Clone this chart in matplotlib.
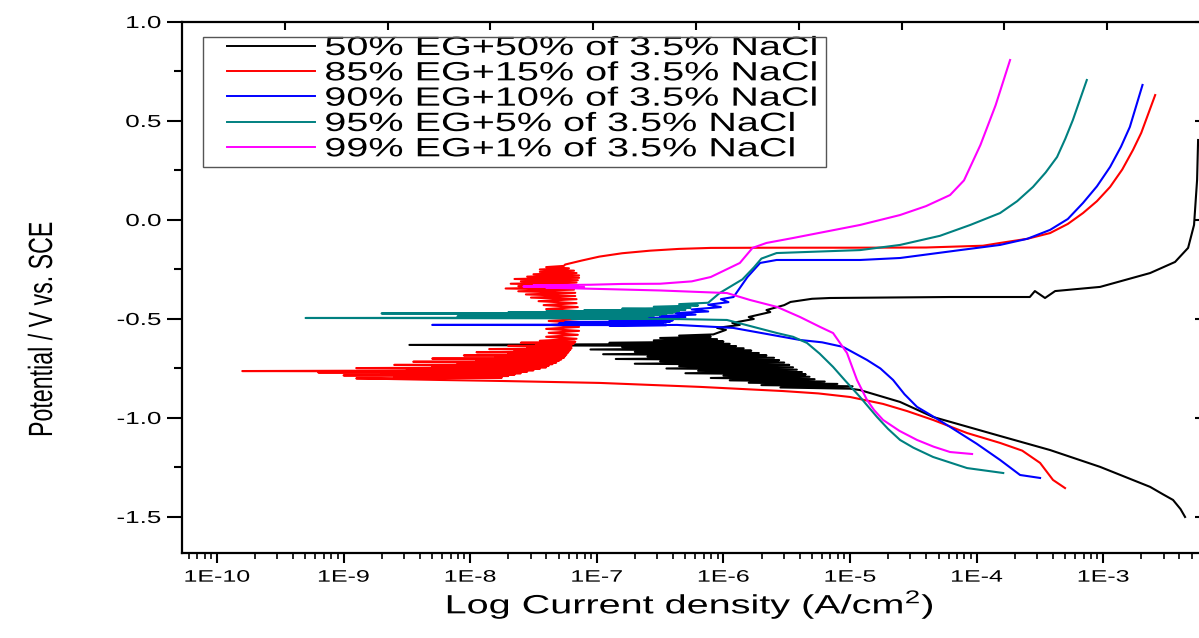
import numpy as np
import matplotlib
matplotlib.use("Agg")
import matplotlib.pyplot as plt
from matplotlib.patheffects import AbstractPathEffect
from matplotlib.transforms import Affine2D
from matplotlib.patches import Rectangle
from matplotlib.ticker import (LogLocator, FixedLocator, FuncFormatter, MultipleLocator,
                               FormatStrFormatter, NullFormatter)

plt.rcParams['font.family'] = ['Liberation Sans', 'DejaVu Sans']
plt.rcParams['mathtext.fontset'] = 'custom'
plt.rcParams['mathtext.rm'] = 'Liberation Sans'

# Tafel scans: (log10 current density, potential vs SCE), cathodic end -> anodic end
black_pts = [(-2.354, -1.500), (-2.390, -1.460), (-2.449, -1.414), (-2.530, -1.385),
             (-2.630, -1.348), (-3.025, -1.247),
             (-3.420, -1.162), (-3.815, -1.091), (-4.344, -0.995), (-4.605, -0.919),
             (-4.921, -0.859),
             (-5.00, -0.852), (-5.55, -0.846), (-4.98, -0.840), (-5.70, -0.834),
             (-5.10, -0.828), (-5.80, -0.822), (-5.20, -0.816), (-5.95, -0.810),
             (-5.28, -0.804), (-6.10, -0.798), (-5.32, -0.792), (-6.00, -0.786),
             (-5.35, -0.780), (-6.30, -0.774), (-5.38, -0.768), (-6.20, -0.762),
             (-5.42, -0.756), (-6.45, -0.750), (-5.45, -0.744), (-6.35, -0.738),
             (-5.48, -0.732), (-6.70, -0.726), (-5.52, -0.720), (-6.50, -0.714),
             (-5.56, -0.708), (-6.85, -0.702), (-5.60, -0.696), (-6.60, -0.690),
             (-5.66, -0.684), (-6.95, -0.678), (-5.72, -0.672), (-6.70, -0.666),
             (-5.78, -0.660), (-7.05, -0.654), (-5.84, -0.648), (-6.80, -0.642),
             (-5.90, -0.637), (-8.48, -0.631), (-5.95, -0.626), (-6.90, -0.620),
             (-6.00, -0.614), (-6.55, -0.608), (-6.05, -0.602), (-6.50, -0.596),
             (-6.10, -0.590), (-6.35, -0.584), (-6.08, -0.578),
             (-5.98, -0.555), (-6.05, -0.545), (-5.87, -0.530), (-5.93, -0.520),
             (-5.76, -0.500), (-5.80, -0.490), (-5.63, -0.465), (-5.66, -0.455),
             (-5.52, -0.430), (-5.47, -0.414), (-5.30, -0.398), (-5.16, -0.394),
             (-4.21, -0.389), (-3.58, -0.389), (-3.54, -0.359), (-3.46, -0.394),
             (-3.38, -0.359), (-3.025, -0.338), (-2.630, -0.268), (-2.433, -0.212),
             (-2.330, -0.141), (-2.283, -0.025), (-2.259, 0.202), (-2.251, 0.404)]

red_pts = [(-3.302, -1.354), (-3.397, -1.313), (-3.499, -1.227), (-3.640, -1.165),
           (-3.815, -1.126), (-4.076, -1.076), (-4.344, -1.010), (-4.550, -0.965),
           (-4.739, -0.929), (-5.000, -0.894), (-5.250, -0.876),
           (-5.529, -0.864), (-6.185, -0.843), (-6.975, -0.823), (-7.765, -0.813),
           (-8.240, -0.808),
           (-8.90, -0.800), (-7.75, -0.796), (-8.60, -0.792), (-7.70, -0.788),
           (-9.00, -0.785), (-7.65, -0.781), (-8.70, -0.778), (-7.60, -0.774),
           (-9.20, -0.770), (-7.55, -0.766), (-9.80, -0.763), (-7.50, -0.759),
           (-8.50, -0.756), (-7.45, -0.752), (-8.90, -0.748), (-7.40, -0.744),
           (-8.30, -0.740), (-7.38, -0.736), (-8.60, -0.732), (-7.35, -0.728),
           (-8.10, -0.724), (-7.32, -0.720), (-8.45, -0.716), (-7.30, -0.712),
           (-7.95, -0.708), (-7.28, -0.704), (-8.30, -0.700), (-7.26, -0.696),
           (-7.80, -0.692), (-7.25, -0.688), (-8.05, -0.684), (-7.24, -0.680),
           (-7.70, -0.676), (-7.23, -0.672), (-7.95, -0.668), (-7.22, -0.664),
           (-7.65, -0.660), (-7.21, -0.656), (-7.85, -0.652), (-7.20, -0.648),
           (-7.55, -0.644), (-7.20, -0.640), (-7.70, -0.636), (-7.20, -0.632),
           (-7.48, -0.628), (-7.18, -0.624), (-7.60, -0.620), (-7.17, -0.615),
           (-7.45, -0.610), (-7.16, -0.600), (-7.40, -0.590), (-7.15, -0.580),
           (-7.38, -0.570), (-7.14, -0.560), (-7.40, -0.550), (-7.14, -0.540),
           (-7.36, -0.530), (-7.14, -0.520), (-7.38, -0.510), (-7.14, -0.500),
           (-7.36, -0.490), (-7.14, -0.480), (-7.38, -0.470), (-7.15, -0.460),
           (-7.40, -0.450), (-7.15, -0.440), (-7.42, -0.430), (-7.16, -0.420),
           (-7.46, -0.410), (-7.16, -0.400), (-7.52, -0.392), (-7.17, -0.384),
           (-7.56, -0.376), (-7.17, -0.368), (-7.62, -0.360), (-7.18, -0.352),
           (-7.72, -0.346), (-7.18, -0.340), (-7.62, -0.334), (-7.17, -0.328),
           (-7.68, -0.322), (-7.16, -0.316), (-7.60, -0.310), (-7.15, -0.304),
           (-7.65, -0.298), (-7.14, -0.292), (-7.55, -0.286), (-7.14, -0.280),
           (-7.50, -0.274), (-7.16, -0.268), (-7.45, -0.262), (-7.18, -0.256),
           (-7.45, -0.250), (-7.22, -0.244), (-7.40, -0.238), (-7.26, -0.232),
           (-7.25, -0.225), (-7.12, -0.205), (-6.98, -0.185), (-6.80, -0.168),
           (-6.58, -0.155), (-6.35, -0.146), (-6.10, -0.141), (-5.60, -0.140),
           (-5.00, -0.140), (-4.40, -0.139), (-3.95, -0.130), (-3.815, -0.116),
           (-3.600, -0.095), (-3.42, -0.066), (-3.280, -0.020), (-3.16, 0.035),
           (-3.050, 0.095), (-2.946, 0.167), (-2.850, 0.255), (-2.765, 0.354),
           (-2.700, 0.440), (-2.654, 0.520), (-2.590, 0.631)]

blue_pts = [(-3.499, -1.303), (-3.657, -1.288), (-3.815, -1.212), (-4.000, -1.130),
            (-4.210, -1.045), (-4.350, -0.990),
            (-4.471, -0.944), (-4.570, -0.880), (-4.660, -0.808), (-4.760, -0.750),
            (-4.866, -0.707), (-5.055, -0.641), (-5.220, -0.618),
            (-5.395, -0.606), (-5.924, -0.545), (-6.367, -0.530),
            (-6.90, -0.533), (-6.45, -0.531), (-8.30, -0.530), (-6.50, -0.528),
            (-7.20, -0.527), (-6.50, -0.525), (-7.30, -0.523), (-6.48, -0.521),
            (-7.00, -0.519), (-6.45, -0.517), (-7.25, -0.515), (-6.42, -0.513),
            (-6.90, -0.510), (-6.40, -0.507), (-6.75, -0.503), (-6.35, -0.500),
            (-6.60, -0.495), (-6.30, -0.490), (-6.50, -0.485), (-6.22, -0.478),
            (-6.38, -0.470), (-6.12, -0.462), (-6.25, -0.452), (-6.02, -0.440),
            (-6.12, -0.428), (-5.96, -0.415), (-6.02, -0.400), (-5.92, -0.389),
            (-5.81, -0.288), (-5.71, -0.217), (-5.58, -0.202), (-4.92, -0.202),
            (-4.605, -0.192), (-4.13, -0.152), (-3.815, -0.126), (-3.600, -0.095),
            (-3.42, -0.050), (-3.280, 0.005),
            (-3.16, 0.086), (-3.050, 0.170), (-2.946, 0.268), (-2.860, 0.370),
            (-2.79, 0.470), (-2.69, 0.682)]

teal_pts = [(-3.790, -1.278), (-4.076, -1.253), (-4.344, -1.197), (-4.500, -1.150),
            (-4.605, -1.111), (-4.700, -1.055),
            (-4.787, -0.995), (-4.921, -0.894), (-5.040, -0.810), (-5.134, -0.742),
            (-5.240, -0.675), (-5.340, -0.621), (-5.450, -0.590),
            (-5.577, -0.571), (-5.972, -0.505), (-6.40, -0.500),
            (-7.20, -0.498), (-6.60, -0.497), (-9.30, -0.495), (-6.70, -0.493),
            (-7.90, -0.491), (-6.60, -0.489), (-8.10, -0.487), (-6.55, -0.485),
            (-7.60, -0.482), (-6.50, -0.480), (-7.90, -0.477), (-6.45, -0.475),
            (-8.70, -0.472), (-6.40, -0.470), (-7.70, -0.467), (-6.38, -0.465),
            (-7.40, -0.462), (-6.35, -0.460), (-7.10, -0.456), (-6.30, -0.453),
            (-6.80, -0.448), (-6.26, -0.444), (-6.55, -0.438), (-6.20, -0.432),
            (-6.35, -0.425), (-6.12, -0.418),
            (-6.03, -0.369), (-5.85, -0.300), (-5.76, -0.240), (-5.70, -0.195),
            (-5.58, -0.167), (-4.92, -0.152), (-4.605, -0.126), (-4.29, -0.080),
            (-4.05, -0.025), (-3.815, 0.035), (-3.680, 0.095), (-3.555, 0.167),
            (-3.455, 0.240), (-3.365, 0.318), (-3.300, 0.410),
            (-3.24, 0.505), (-3.13, 0.707)]

magenta_pts = [(-4.036, -1.182), (-4.210, -1.172), (-4.340, -1.145), (-4.471, -1.111),
               (-4.610, -1.065), (-4.739, -1.010), (-4.810, -0.960),
               (-4.866, -0.909), (-4.945, -0.808), (-5.024, -0.672), (-5.134, -0.571),
               (-5.237, -0.540), (-5.395, -0.490), (-5.577, -0.439), (-5.790, -0.404),
               (-5.972, -0.369), (-6.50, -0.356), (-7.00, -0.348),
               (-7.40, -0.342), (-7.10, -0.339), (-7.58, -0.336), (-7.15, -0.333),
               (-7.50, -0.330), (-7.05, -0.327),
               (-6.80, -0.323), (-6.50, -0.322), (-6.25, -0.310), (-6.10, -0.288),
               (-5.87, -0.217), (-5.77, -0.141), (-5.66, -0.116), (-5.45, -0.091),
               (-4.92, -0.025), (-4.605, 0.025), (-4.400, 0.070), (-4.21, 0.126),
               (-4.10, 0.200), (-3.97, 0.379), (-3.85, 0.580), (-3.736, 0.808)]

labels = ['50% EG+50% of 3.5% NaCl', '85% EG+15% of 3.5% NaCl',
          '90% EG+10% of 3.5% NaCl', '95% EG+5% of 3.5% NaCl',
          '99% EG+1% of 3.5% NaCl']
colors = ['#000000', '#ff0000', '#0000ff', '#008080', '#ff00ff']
series = [black_pts, red_pts, blue_pts, teal_pts, magenta_pts]

decades = [-10, -9, -8, -7, -6, -5, -4, -3]
top_ticks = [0.1, 0.2, 0.3, 0.4, 0.5, 0.6, 0.7, 0.8, 0.9]


class Widen(AbstractPathEffect):
    """Draw text glyphs stretched sideways on screen."""

    def __init__(self, sx, anchor='center', rotated=False):
        super().__init__()
        self.sx = sx
        self.anchor = anchor
        self.rotated = rotated

    def draw_path(self, renderer, gc, tpath, affine, rgbFace=None):
        ext = tpath.get_extents()
        if self.rotated:
            c = (ext.y0 + ext.y1) / 2
            st = Affine2D().translate(0, -c).scale(1, self.sx).translate(0, c)
        else:
            c = {'left': ext.x0, 'center': (ext.x0 + ext.x1) / 2,
                 'right': ext.x1}[self.anchor]
            st = Affine2D().translate(-c, 0).scale(self.sx, 1).translate(c, 0)
        renderer.draw_path(gc, tpath, st + affine, rgbFace)


W, H = 1199, 638
fig = plt.figure(figsize=(W / 100, H / 100), dpi=100)
ax = fig.add_axes([182 / W, 1 - 553 / H, 1028 / W, 531 / H])

for pts, c, lab in zip(series, colors, labels):
    arr = np.array(pts)
    ax.plot(10 ** arr[:, 0], arr[:, 1], color=c, lw=1.5, label=lab)

ax.set_xscale('log')
ax.set_xlim(10 ** -10.276, 10 ** -2.157)
ax.set_ylim(-1.682, 1.0)

ax.xaxis.set_major_locator(FixedLocator([10.0 ** d for d in decades]))
ax.xaxis.set_minor_locator(LogLocator(base=10, subs=np.arange(2, 10), numticks=20))
ax.xaxis.set_major_formatter(FuncFormatter(lambda v, p: '1E%d' % round(np.log10(v))))
ax.xaxis.set_minor_formatter(NullFormatter())
ax.yaxis.set_major_locator(MultipleLocator(0.5))
ax.yaxis.set_minor_locator(MultipleLocator(0.25))
ax.yaxis.set_major_formatter(FormatStrFormatter('%.1f'))

ax.tick_params(axis='x', which='major', direction='out', length=7, width=1.5,
               pad=5, labelsize=12, top=False)
ax.tick_params(axis='x', which='minor', direction='out', length=4, width=1.2, top=False)
ax.tick_params(axis='y', which='major', direction='out', length=11, width=1.5,
               pad=4, labelsize=12.5, right=False)
ax.tick_params(axis='y', which='minor', direction='out', length=6, width=1.5, right=False)
for s in ax.spines.values():
    s.set_linewidth(1.6)

# twin axes carries the plain inward ticks on top and right
tw = ax.twiny()
tw.set_xlim(0, 1)
tw.set_xticks(top_ticks)
tw.tick_params(axis='x', direction='in', length=6, width=1.5, labeltop=False)
tw.yaxis.set_visible(True)
tw.tick_params(axis='y', which='both', left=False, right=True, labelleft=False,
               labelright=False, direction='in', width=1.5)
tw.tick_params(axis='y', which='major', length=11)
tw.tick_params(axis='y', which='minor', length=6)
for s in tw.spines.values():
    s.set_visible(False)

ax.set_xlabel('Log Current density (A/cm$^\\mathregular{2}$)', fontsize=19)
ax.xaxis.set_label_coords(0.494, -0.066)
ax.set_ylabel('Potential / V vs. SCE', fontsize=16.7)
ax.yaxis.set_label_coords(-0.1252, 0.42)

leg = ax.legend(loc='upper left', bbox_to_anchor=(0.0438, 0.9736), frameon=False,
                fontsize=19, handlelength=3.33, handletextpad=0.38,
                labelspacing=0.05, borderpad=0, borderaxespad=0)
for ln in leg.get_lines():
    ln.set_linewidth(1.4)
ax.add_patch(Rectangle((0.0204, 0.7269), 0.6061, 0.2449, transform=ax.transAxes,
                       fill=False, lw=1.0, ec='#555555', zorder=6))

fig.canvas.draw()
for t in leg.get_texts():
    t.set_path_effects([Widen(1.5, 'left')])
for t in ax.get_xticklabels():
    t.set_path_effects([Widen(1.5, 'center')])
for t in ax.get_yticklabels():
    t.set_path_effects([Widen(1.5, 'right')])
ax.xaxis.label.set_path_effects([Widen(1.5, 'center')])
ax.yaxis.label.set_path_effects([Widen(1.45, rotated=True)])

fig.savefig('out.png', dpi=100)
